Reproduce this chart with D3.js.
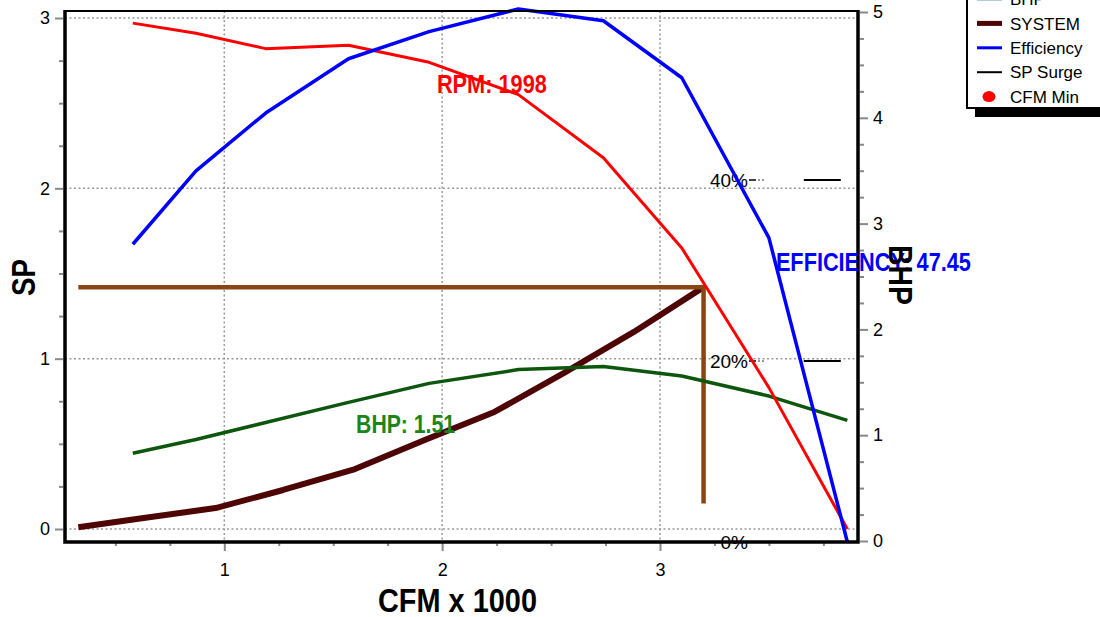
<!DOCTYPE html>
<html>
<head>
<meta charset="utf-8">
<script src="https://cdn.jsdelivr.net/npm/d3@7"></script>
<style>
  body { margin: 0; background: #fff; }
  svg { display: block; }
</style>
</head>
<body>
<svg width="1100" height="617"></svg>
<script>
// fan curve samples (CFM x 1000)
const fanCfm = [0.58, 0.87, 1.19, 1.57, 1.94, 2.35, 2.74, 3.10, 3.50, 3.86];
const rpmSp = [2.97, 2.91, 2.82, 2.84, 2.74, 2.55, 2.18, 1.65, 0.83, 0.0];
const effPct = [32.9, 41.0, 47.4, 53.4, 56.4, 58.9, 57.6, 51.3, 33.6, 0];
const bhpVal = [0.83, 0.96, 1.12, 1.31, 1.49, 1.62, 1.65, 1.56, 1.37, 1.14];
// system curve
const systemCfm = [0.33, 0.63, 0.96, 1.27, 1.60, 1.92, 2.24, 2.56, 2.88, 3.20];
const systemSp = [0.01, 0.065, 0.123, 0.229, 0.352, 0.523, 0.687, 0.916, 1.157, 1.42];
// operating point
const opCfm = 3.2, opSp = 1.42, opCfmStart = 0.33, opSpEnd = 0.15;
const opRpm = 1998, opBhp = 1.51, opEff = 47.45;
// efficiency marks and sp surge marks
const effTicks = [40, 20, 0];
const surgeEff = [40, 20];
const surgeCfm = [3.66, 3.83];
const legendItems = ['BHP', 'SYSTEM', 'Efficiency', 'SP Surge', 'CFM Min'];
const legendColours = ['#5f9ea0', '#4d0505', '#0000ff', '#000000', '#ff0000'];

const svg = d3.select('svg');
const plain = "'Liberation Sans',Arial,sans-serif";
const frame = {left: 65, right: 858, top: 11, bottom: 542};

const x = d3.scaleLinear().domain([1, 3]).range([224.3, 660]);
const ySp = d3.scaleLinear().domain([0, 3]).range([529, 18]);
const yBhp = d3.scaleLinear().domain([0, 5]).range([541, 12]);
const yEff = d3.scaleLinear().domain([0, 40]).range([542, 180]);

svg.append('rect').attr('width', 1100).attr('height', 617).attr('fill', '#fff');

//grid
const grid = svg.append('g').attr('stroke', '#999').attr('stroke-width', 1.5).attr('stroke-dasharray', '2,2.5');
[0, 1, 2, 3].forEach(v => grid.append('line')
  .attr('x1', frame.left).attr('x2', frame.right).attr('y1', ySp(v)).attr('y2', ySp(v)));
[1, 2, 3].forEach(v => grid.append('line')
  .attr('x1', x(v)).attr('x2', x(v)).attr('y1', frame.top).attr('y2', frame.bottom));

//axes with major / minor ticks
const isInt = d => Math.abs(d - Math.round(d)) < 1e-6;
const fmt = d => isInt(d) ? d3.format('d')(d) : '';
const styleAxis = g => {
  g.select('.domain').remove();
  g.selectAll('.tick line').attr('stroke', '#888').attr('stroke-width', 2);
  g.selectAll('.tick text').attr('fill', '#000')
    .style('font-family', plain).style('font-size', '18px');
};

const leftAxis = svg.append('g').attr('transform', `translate(${frame.left - 2},0)`)
  .call(d3.axisLeft(ySp).tickValues(d3.range(0, 3.01, 0.25)).tickSize(8).tickPadding(5).tickFormat(fmt));
styleAxis(leftAxis);
leftAxis.selectAll('.tick line').attr('x2', d => isInt(d) ? -8 : -4);

const rightAxis = svg.append('g').attr('transform', `translate(${frame.right + 2},0)`)
  .call(d3.axisRight(yBhp).tickValues(d3.range(0, 5.01, 0.25)).tickSize(8).tickPadding(5).tickFormat(fmt));
styleAxis(rightAxis);
rightAxis.selectAll('.tick line').attr('x2', d => isInt(d) ? 8 : 4);

const bottomAxis = svg.append('g').attr('transform', `translate(0,${frame.bottom + 1})`)
  .call(d3.axisBottom(x).tickValues(d3.range(0.5, 3.76, 0.25)).tickSize(8).tickPadding(12).tickFormat(fmt));
styleAxis(bottomAxis);
bottomAxis.selectAll('.tick line').attr('y2', d => isInt(d) ? 8 : 3);

//efficiency marks
effTicks.forEach(v => {
  svg.append('text').attr('x', 748).attr('y', yEff(v)).attr('dy', '0.36em')
    .attr('text-anchor', 'end').style('font-family', plain).style('font-size', '19px').text(v + '%');
  if (v > 0) {
    svg.append('line').attr('x1', 749).attr('x2', 756).attr('y1', yEff(v)).attr('y2', yEff(v))
      .attr('stroke', '#000').attr('stroke-width', 1.5);
    svg.append('line').attr('x1', 758).attr('x2', 765).attr('y1', yEff(v)).attr('y2', yEff(v))
      .attr('stroke', '#777').attr('stroke-width', 1.5).attr('stroke-dasharray', '2,2');
  }
});
surgeEff.forEach(v => svg.append('line')
  .attr('x1', x(surgeCfm[0])).attr('x2', x(surgeCfm[1])).attr('y1', yEff(v)).attr('y2', yEff(v))
  .attr('stroke', '#000').attr('stroke-width', 2));

//curves
const drawLine = (xs, ys, yScale, colour, width) => svg.append('path')
  .datum(xs.map((d, i) => [d, ys[i]]))
  .attr('fill', 'none').attr('stroke', colour).attr('stroke-width', width).attr('stroke-linejoin', 'round')
  .attr('d', d3.line().x(d => x(d[0])).y(d => yScale(d[1])));

drawLine(systemCfm, systemSp, ySp, '#4d0505', 6);
drawLine([opCfmStart, opCfm, opCfm], [opSp, opSp, opSpEnd], ySp, '#8b4513', 4.5).attr('stroke-linejoin', 'miter');
drawLine(fanCfm, bhpVal, yBhp, '#0d560d', 3.5);
drawLine(fanCfm, rpmSp, ySp, '#ff0000', 3);
drawLine(fanCfm, effPct, yEff, '#0000ff', 3.5);

//frame
const fr = svg.append('g').attr('stroke', '#000').attr('fill', 'none');
fr.append('line').attr('x1', frame.left).attr('x2', frame.right).attr('y1', frame.top).attr('y2', frame.top).attr('stroke-width', 2);
fr.append('path').attr('stroke-width', 3.5)
  .attr('d', `M${frame.left},${frame.top - 1}V${frame.bottom}H${frame.right}V${frame.top - 1}`);

//value labels, squeezed to a narrow bold face
const narrowText = (sel, txt, size, len) => sel.append('text')
  .style('font-family', plain).style('font-weight', 'bold').style('font-size', size + 'px')
  .attr('textLength', len).attr('lengthAdjust', 'spacingAndGlyphs').text(txt);
narrowText(svg, 'RPM: ' + opRpm, 25, 110).attr('x', x(1.976)).attr('y', 93).attr('fill', '#ff0000');
narrowText(svg, 'BHP: ' + opBhp, 26, 99).attr('x', x(1.605)).attr('y', 433).attr('fill', '#1a861a');
narrowText(svg, 'EFFICIENCY: ' + opEff, 25, 195).attr('x', x(3.532)).attr('y', 271).attr('fill', '#0000ff');

//axis titles
narrowText(svg, 'CFM x 1000', 34, 159).attr('x', 378).attr('y', 612);
narrowText(svg, 'SP', 34, 37).attr('transform', 'translate(35,296) rotate(-90)');
narrowText(svg, 'BHP', 34, 60).attr('transform', 'translate(889,245) rotate(90)');

//legend
const legG = svg.append('g');
legG.append('rect').attr('x', 975).attr('y', -30).attr('width', 140).attr('height', 147).attr('fill', '#000');
legG.append('rect').attr('x', 967).attr('y', -38).attr('width', 140).attr('height', 146)
  .attr('fill', '#fff').attr('stroke', '#000').attr('stroke-width', 2);
const rows = legG.selectAll('.tick').data(legendItems).enter().append('g')
  .attr('class', 'tick').attr('transform', (d, i) => `translate(0,${-1 + i * 24.4})`);
rows.filter(d => d !== 'CFM Min').append('line')
  .attr('x1', 977).attr('x2', 1002)
  .attr('stroke', d => legendColours[legendItems.indexOf(d)])
  .attr('stroke-width', d => d === 'SYSTEM' ? 5 : d === 'SP Surge' ? 2 : 3);
rows.filter(d => d === 'CFM Min').append('ellipse')
  .attr('cx', 989).attr('rx', 6.5).attr('ry', 5.5).attr('fill', '#ff0000');
rows.append('text').attr('x', 1010).attr('dy', '0.36em')
  .style('font-family', plain).style('font-size', '17px').text(d => d);
</script>
</body>
</html>
